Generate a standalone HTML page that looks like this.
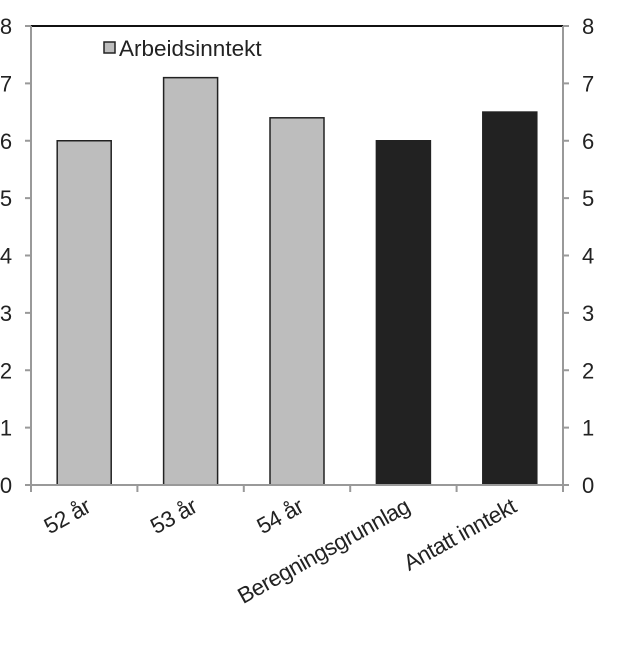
<!DOCTYPE html>
<html><head><meta charset="utf-8"><style>
html,body{margin:0;padding:0;background:#fff;}
svg{display:block;font-family:"Liberation Sans",Arial,sans-serif;}
</style></head><body>
<svg id="chart" width="620" height="651" viewBox="0 0 620 651">
<defs><clipPath id="rc"><rect x="0" y="0" width="596" height="651"/></clipPath></defs>
<g id="bars"></g>
<g id="axes"></g>
<g id="labels"></g>
<g>
<rect x="104" y="42" width="11" height="11" fill="#bdbdbd" stroke="#222" stroke-width="1.5"/>
<text x="119" y="56" font-size="22.5" fill="#222">Arbeidsinntekt</text>
</g>
</svg>
<script>
const categories=["52 år","53 år","54 år","Beregningsgrunnlag","Antatt inntekt"];
const values=[6.0,7.1,6.4,6.0,6.5];
const colors=["#bdbdbd","#bdbdbd","#bdbdbd","#222222","#222222"];
const yTicks=[0,1,2,3,4,5,6,7,8];
const NS="http://www.w3.org/2000/svg";
const L=31,R=563,T=26,B=485,yMax=8;
const y=v=>B-(v/yMax)*(B-T);
const bw=(R-L)/categories.length;
const x=i=>L+bw*i+bw/2;
function mk(tag,attrs,parent){const e=document.createElementNS(NS,tag);for(const k in attrs)e.setAttribute(k,attrs[k]);parent.appendChild(e);return e;}
const barsG=document.getElementById('bars'),axesG=document.getElementById('axes'),labelsG=document.getElementById('labels');
values.forEach((v,i)=>{
 const r=mk('rect',{x:x(i)-27,y:y(v),width:54,height:B-y(v),fill:colors[i],stroke:'#222','stroke-width':1.5},barsG);
 
 
 const ax=x(i)+8,ay=B+26;
 const t=mk('text',{x:ax,y:ay,'font-size':22.5,'letter-spacing':-0.5,fill:'#222','text-anchor':'end',transform:`rotate(-29 ${ax} ${ay})`},labelsG);
 t.textContent=categories[i];
 
 
});
const topLine=mk('line',{x1:L,y1:T,x2:R+2,y2:T,stroke:'#111','stroke-width':2},axesG);


const la=mk('line',{x1:L,y1:T,x2:L,y2:B,stroke:'#999','stroke-width':2},axesG);


const ra=mk('line',{x1:R,y1:T,x2:R,y2:B,stroke:'#999','stroke-width':2},axesG);


const xa=mk('line',{x1:L-6,y1:B,x2:R+6,y2:B,stroke:'#999','stroke-width':2},axesG);


for(let i=0;i<=categories.length;i++){mk('line',{x1:L+bw*i,y1:B,x2:L+bw*i,y2:B+7,stroke:'#999','stroke-width':2},axesG);}
const rg=mk('g',{'clip-path':'url(#rc)'},labelsG);
yTicks.forEach(v=>{
 mk('line',{x1:L-6,y1:y(v),x2:L,y2:y(v),stroke:'#999','stroke-width':2},axesG);
 mk('line',{x1:R,y1:y(v),x2:R+6,y2:y(v),stroke:'#999','stroke-width':2},axesG);
 const t=mk('text',{x:6,y:y(v)+8,'font-size':22,fill:'#222','text-anchor':'middle'},labelsG);
 t.textContent=v;
 
 
 const t2=mk('text',{x:582,y:y(v)+8,'font-size':22,fill:'#222'},rg);
 t2.textContent=v;
 
 
});
</script>
</body></html>
